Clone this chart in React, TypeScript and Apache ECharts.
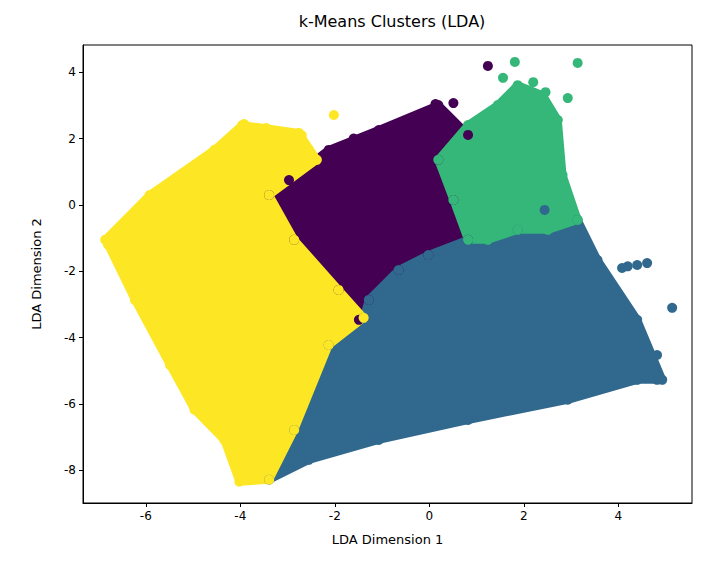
import React, { useEffect, useRef } from "react";
import * as echarts from "echarts";

const xTicks = [-6, -4, -2, 0, 2, 4];
const yTicks = [-8, -6, -4, -2, 0, 2, 4];

const clusterNames = ["0", "1", "2", "3"];
const clusterColors = ["#440154", "#31688e", "#35b779", "#fde725"];

// cluster hulls (data coords)
const purpleHull = [
  [-3.39, 0.3], [-2.97, 0.75], [-2.13, 1.66], [-1.07, 2.26], [0.19, 3.01], [0.82, 2.11],
  [0.19, 1.36], [0.51, 0.15], [0.82, -1.05], [-0.02, -1.51], [-0.65, -1.96],
  [-1.28, -2.86], [-1.49, -3.46], [-1.92, -2.56], [-2.86, -1.05],
];
const blueHull = [
  [0.82, -1.05], [1.87, -0.75], [3.14, -0.45], [3.56, -1.66], [4.4, -3.46], [4.93, -5.27],
  [4.4, -5.27], [2.93, -5.87], [0.82, -6.48], [-1.07, -7.08], [-2.55, -7.68], [-3.39, -8.28],
  [-2.86, -6.78], [-2.13, -4.22], [-1.39, -3.4], [-1.28, -2.86], [-0.65, -1.96], [-0.02, -1.51],
];
const greenHull = [
  [0.19, 1.36], [0.82, 2.41], [1.45, 3.01], [1.87, 3.61], [2.4, 3.31], [2.72, 2.56],
  [2.82, 0.9], [3.14, -0.45], [2.51, -0.75], [1.87, -0.75], [1.24, -1.05], [0.82, -1.05],
  [0.51, 0.15],
];
const yellowHull = [
  [-6.86, -1.05], [-5.92, 0.3], [-4.55, 1.66], [-3.96, 2.41], [-2.76, 2.17], [-2.38, 1.36],
  [-3.39, 0.3], [-2.86, -1.05], [-1.92, -2.56], [-1.39, -3.4], [-2.13, -4.22], [-2.86, -6.78],
  [-3.39, -8.28], [-4.02, -8.34], [-4.34, -7.08], [-4.97, -6.17], [-5.49, -4.82],
  [-6.23, -2.86], [-6.8, -1.2],
];

// loose points outside the hulls
const purpleExtra = [[1.24, 4.19], [0.13, 3.04], [0.51, 3.07], [-0.3, 2.6], [-1.6, 2.0]];
const blueExtra = [[2.44, -0.15], [5.14, -3.1], [4.08, -1.9], [4.61, -1.75], [4.4, -1.81], [4.82, -4.52], [4.82, -5.27], [4.2, -1.85]];
const greenExtra = [[1.81, 4.31], [3.14, 4.28], [1.56, 3.83], [2.46, 3.4], [2.93, 3.22], [2.2, 3.7], [2.9, 0.2]];
const yellowExtra = [[-3.92, 2.44], [-3.45, 2.32], [-4.53, 1.66], [-2.02, 2.71], [-5.81, 0.24], [-2.7, 2.1], [-3.1, 1.9], [-4.8, 1.2]];

const hulls = [purpleHull, blueHull, greenHull, yellowHull];
const extras = [purpleExtra, blueExtra, greenExtra, yellowExtra];

export default function App() {
  const ref = useRef<HTMLDivElement>(null);

  useEffect(() => {
    document.body.style.margin = "0";
    if (!ref.current) return;
    const chart = echarts.init(ref.current, undefined, { renderer: "svg" });
    const font = "DejaVu Sans";

    const series: any[] = [];
    // filled hulls first, then the dots on top
    hulls.forEach((hull, i) => {
      series.push({
        name: clusterNames[i],
        type: "custom",
        data: [[0, 0]],
        renderItem: (_p: any, api: any) => ({
          type: "polygon",
          shape: { points: hull.map((pt) => api.coord(pt)) },
          style: { fill: clusterColors[i], stroke: clusterColors[i], lineWidth: 8, lineJoin: "round" },
        }),
        silent: true,
      });
    });
    hulls.forEach((hull, i) => {
      series.push({
        name: clusterNames[i],
        type: "scatter",
        data: [...hull, ...extras[i]],
        symbolSize: 10,
        itemStyle: { color: clusterColors[i], opacity: 1 },
      });
    });

    chart.setOption({
      animation: false,
      textStyle: { fontFamily: font },
      title: {
        text: "k-Means Clusters (LDA)",
        left: 387,
        textAlign: "center",
        top: 8,
        textStyle: { fontSize: 16, fontWeight: "normal", color: "#000", fontFamily: font },
      },
      grid: { left: 83, right: 24, top: 45, bottom: 74, show: true, borderColor: "#000", borderWidth: 1 },
      xAxis: {
        type: "value",
        min: -7.33,
        max: 5.56,
        name: "LDA Dimension 1",
        nameLocation: "middle",
        nameGap: 30,
        nameTextStyle: { fontSize: 13, color: "#000" },
        axisLine: { show: true, onZero: false, lineStyle: { color: "#000" } },
        axisTick: { show: true, length: 4, lineStyle: { color: "#000" }, customValues: xTicks },
        axisLabel: { color: "#000", fontSize: 12, customValues: xTicks, margin: 7 },
        splitLine: { show: false },
      },
      yAxis: {
        type: "value",
        min: -8.98,
        max: 4.82,
        name: "LDA Dimension 2",
        nameLocation: "middle",
        nameGap: 40,
        nameRotate: 90,
        nameTextStyle: { fontSize: 13, color: "#000" },
        axisLine: { show: true, onZero: false, lineStyle: { color: "#000" } },
        axisTick: { show: true, length: 4, lineStyle: { color: "#000" }, customValues: yTicks },
        axisLabel: { color: "#000", fontSize: 12, customValues: yTicks, margin: 7 },
        splitLine: { show: false },
      },
      series,
    });
    return () => chart.dispose();
  }, []);

  return <div ref={ref} style={{ width: 716, height: 577 }} />;
}
